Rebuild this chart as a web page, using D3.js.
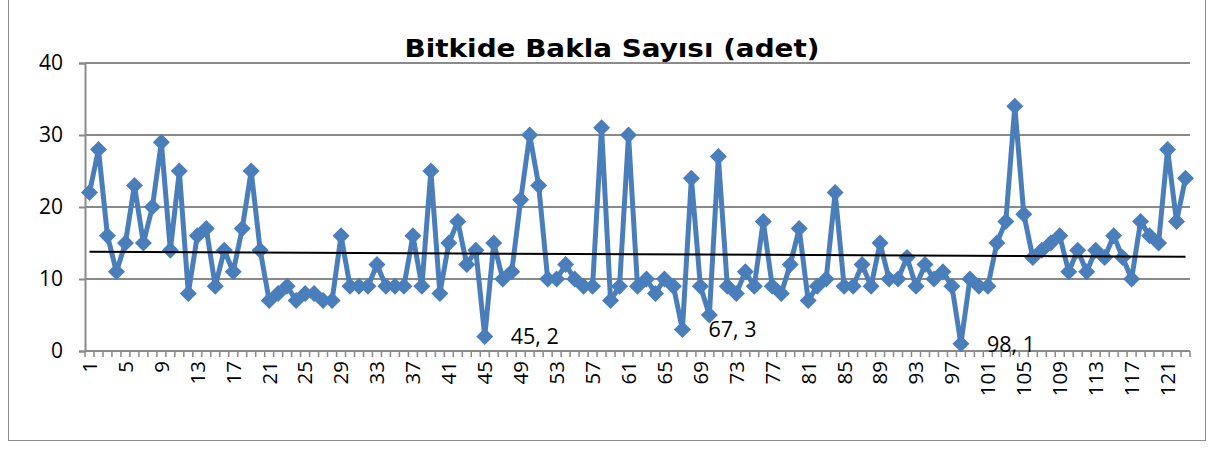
<!DOCTYPE html>
<html>
<head>
<meta charset="utf-8">
<script src="https://cdn.jsdelivr.net/npm/d3@7"></script>
<style>
  html, body { margin: 0; padding: 0; background: #fff; }
  svg { display: block; }
</style>
</head>
<body>
<svg id="chart" width="1213" height="450"></svg>
<script>
const title = "Bitkide Bakla Sayısı (adet)";
const categories = d3.range(1, 124).map(String);
const values = [
  22, 28, 16, 11, 15, 23, 15, 20, 29, 14,
  25, 8, 16, 17, 9, 14, 11, 17, 25, 14,
  7, 8, 9, 7, 8, 8, 7, 7, 16, 9,
  9, 9, 12, 9, 9, 9, 16, 9, 25, 8,
  15, 18, 12, 14, 2, 15, 10, 11, 21, 30,
  23, 10, 10, 12, 10, 9, 9, 31, 7, 9,
  30, 9, 10, 8, 10, 9, 3, 24, 9, 5,
  27, 9, 8, 11, 9, 18, 9, 8, 12, 17,
  7, 9, 10, 22, 9, 9, 12, 9, 15, 10,
  10, 13, 9, 12, 10, 11, 9, 1, 10, 9,
  9, 15, 18, 34, 19, 13, 14, 15, 16, 11,
  14, 11, 14, 13, 16, 13, 10, 18, 16, 15,
  28, 18, 24
];
const yTicks = [0, 10, 20, 30, 40];
const xTickLabels = categories.filter((c, i) => i % 4 === 0);
const labelledPoints = ["45", "67", "98"];

(function () {
const blue = "#4A7EBB";
const grid = "#8A8A8A";
const font = "'Open Sans', 'Liberation Sans', sans-serif";

const svg = d3.select("#chart");
const pL = 85, pR = 1190, pT = 63, pB = 351;

// outer frame
svg.append("rect")
  .attr("x", 8.5).attr("y", -2).attr("width", 1197).attr("height", 442.5)
  .attr("fill", "none").attr("stroke", "#8C8C8C").attr("stroke-width", 1);

const x = d3.scaleBand().domain(categories).range([pL, pR]).padding(0);
const cx = c => x(c) + x.bandwidth() / 2;
const y = d3.scaleLinear().domain([0, 40]).range([pB, pT]);

// gridlines
svg.append("g").selectAll("line").data(yTicks).join("line")
  .attr("x1", pL).attr("x2", pR)
  .attr("y1", d => y(d)).attr("y2", d => y(d))
  .attr("stroke", grid).attr("stroke-width", 2);

// y axis
const yAxis = svg.append("g").attr("transform", `translate(${pL},0)`)
  .call(d3.axisLeft(y).tickValues(yTicks).tickSize(6).tickPadding(16));
yAxis.select(".domain").attr("stroke", grid).attr("stroke-width", 2);
yAxis.selectAll(".tick line").attr("stroke", grid).attr("stroke-width", 2);
yAxis.selectAll(".tick text")
  .attr("font-family", font).attr("font-size", 21).attr("fill", "#000");

// x axis
const xAxis = svg.append("g").attr("transform", `translate(0,${pB})`)
  .call(d3.axisBottom(x).tickValues(xTickLabels).tickSize(0).tickPadding(0));
xAxis.select(".domain").remove();
xAxis.selectAll(".tick line").remove();
xAxis.selectAll(".tick text")
  .attr("font-family", font).attr("font-size", 20.5).attr("fill", "#000")
  .attr("transform", "rotate(-90)")
  .attr("text-anchor", "end")
  .attr("x", -10).attr("y", 0).attr("dy", "0.36em");
xAxis.append("line")
  .attr("x1", pL).attr("x2", pR).attr("y1", 0).attr("y2", 0)
  .attr("stroke", grid).attr("stroke-width", 2);
xAxis.append("g").selectAll("line").data(categories.concat(["__end"])).join("line")
  .attr("x1", d => d === "__end" ? pR : x(d))
  .attr("x2", d => d === "__end" ? pR : x(d))
  .attr("y1", 0).attr("y2", 6)
  .attr("stroke", grid).attr("stroke-width", 1.5);

// data line
const data = categories.map((c, i) => ({ c, v: values[i], i: i + 1 }));
svg.append("path").datum(data)
  .attr("d", d3.line().x(d => cx(d.c)).y(d => y(d.v)))
  .attr("fill", "none").attr("stroke", blue).attr("stroke-width", 5)
  .attr("stroke-linejoin", "round");

// markers
const r = 8.5;
svg.append("g").selectAll("path").data(data).join("path")
  .attr("transform", d => `translate(${cx(d.c)},${y(d.v)})`)
  .attr("d", `M0,${-r}L${r},0L0,${r}L${-r},0Z`)
  .attr("fill", blue);

// linear trend line
const n = data.length;
const mx = d3.mean(data, d => d.i), my = d3.mean(data, d => d.v);
const slope = d3.sum(data, d => (d.i - mx) * (d.v - my)) / d3.sum(data, d => (d.i - mx) ** 2);
const icpt = my - slope * mx;
svg.append("line")
  .attr("x1", cx(categories[0])).attr("y1", y(icpt + slope * 1))
  .attr("x2", cx(categories[n - 1])).attr("y2", y(icpt + slope * n))
  .attr("stroke", "#000").attr("stroke-width", 2);

// data labels
svg.append("g").selectAll("text").data(data.filter(d => labelledPoints.includes(d.c))).join("text")
  .attr("x", d => cx(d.c) + 26).attr("y", d => y(d.v)).attr("dy", "0.36em")
  .attr("font-family", font).attr("font-size", 21.5).attr("fill", "#000")
  .text(d => `${d.c}, ${d.v}`);

// title
svg.append("text")
  .attr("x", 612).attr("y", 57)
  .attr("text-anchor", "middle")
  .attr("font-family", "'DejaVu Sans', sans-serif").attr("font-weight", "bold")
  .attr("font-size", 25).attr("fill", "#000")
  .attr("textLength", 415).attr("lengthAdjust", "spacingAndGlyphs")
  .text(title);
})();
</script>
</body>
</html>
